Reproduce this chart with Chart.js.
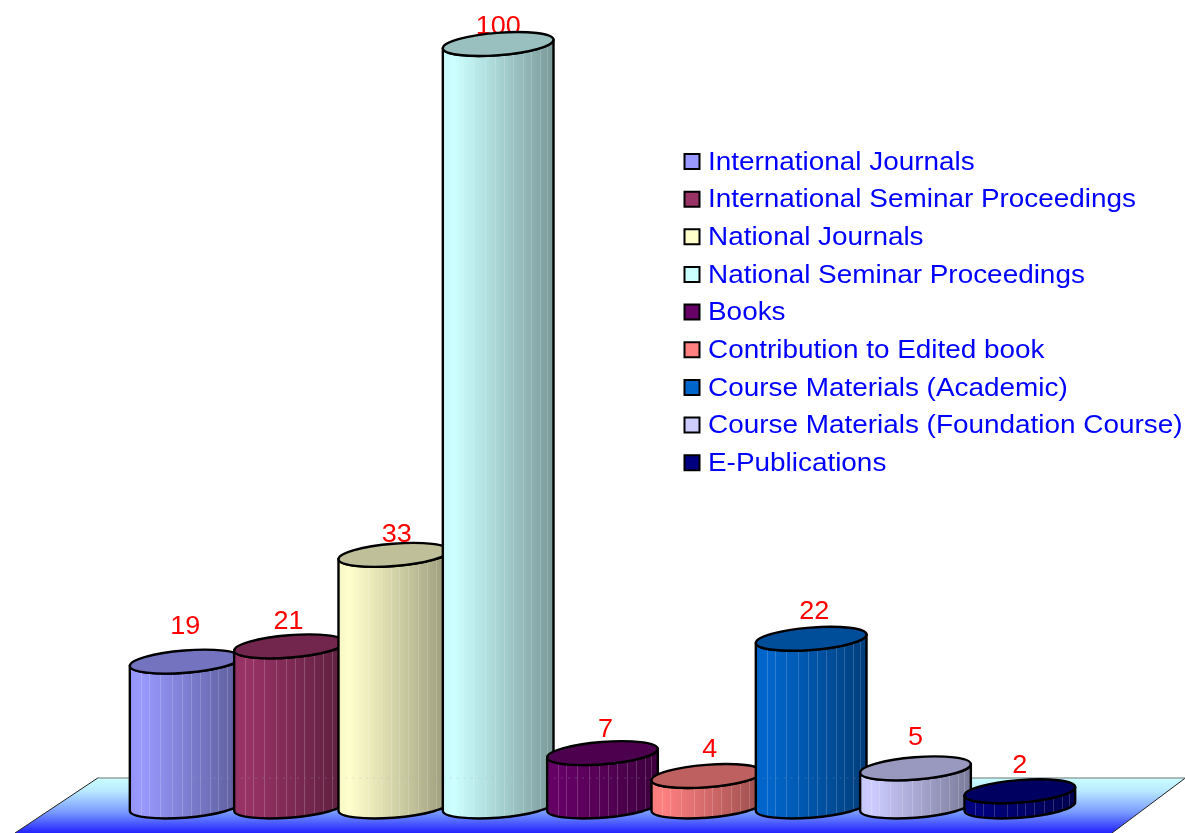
<!DOCTYPE html>
<html>
<head>
<meta charset="utf-8">
<style>html,body{margin:0;padding:0;background:#fff;overflow:hidden}canvas{display:block}</style>
<script src="https://cdn.jsdelivr.net/npm/chart.js@4"></script>
</head>
<body>
<canvas id="c" width="1185" height="833"></canvas>
<script>
const categories = ["International Journals","International Seminar Proceedings","National Journals","National Seminar Proceedings","Books","Contribution to Edited book","Course Materials (Academic)","Course Materials (Foundation Course)","E-Publications"];
const values = [19,21,33,100,7,4,22,5,2];
const barColors = ["#9999ff","#993366","#ffffcc","#ccffff","#660066","#ff8080","#0066cc","#ccccff","#000080"];
const labelLift = [35,25,20,17,24,26,27,31,26];
const labelShift = [0,-1,3,0,3,3,3,0,0];
const stripes = [.1,.17,.27,.38,.47,.55,.63,.72,.8,.88,.94];

function shade(hex,f){
  const n=parseInt(hex.slice(1),16);
  return 'rgb('+[(n>>16)&255,(n>>8)&255,n&255].map(v=>Math.round(v*f)).join(',')+')';
}
const TILT=4.5*Math.PI/180, RY=11.2;
const LEGEND_FONT=25, LEGEND_PITCH=37.65, LEGEND_TEXT_X=708, LEGEND_TEXT_Y=162.8, LEGEND_BOX_Y=161.5, LEGEND_STRETCH=1.116;

const floorPlugin={id:'floor',
  beforeDatasetsDraw(chart){
    const {ctx,width}=chart;
    const yb=chart.scales.y.getPixelForValue(0);
    const top=yb-29, bot=chart.height;
    ctx.save();
    const g=ctx.createLinearGradient(0,top,0,bot);
    g.addColorStop(0,'#ccffff');g.addColorStop(.25,'#b8e8ff');g.addColorStop(.62,'#7a9cff');g.addColorStop(1,'#2222ff');
    ctx.beginPath();ctx.moveTo(98.5,top);ctx.lineTo(width+1,top);ctx.lineTo(1112,bot);ctx.lineTo(15,bot);ctx.closePath();
    ctx.fillStyle=g;ctx.fill();
    ctx.lineWidth=1;ctx.strokeStyle='#222';
    ctx.beginPath();ctx.moveTo(15,bot);ctx.lineTo(98.5,top);ctx.stroke();
    ctx.beginPath();ctx.moveTo(1112,bot);ctx.lineTo(width+1,top);ctx.stroke();
    ctx.strokeStyle='#777';ctx.beginPath();ctx.moveTo(98.5,top+.5);ctx.lineTo(width,top+.5);ctx.stroke();
    // value labels sit behind the cylinders
    const meta=chart.getDatasetMeta(0);
    ctx.fillStyle='#ff0000';ctx.textAlign='center';ctx.textBaseline='middle';
    meta.data.forEach((el,i)=>{
      ctx.save();
      ctx.translate(el.x+labelShift[i],el.y-labelLift[i]+.6);ctx.scale(1.08,1);
      ctx.font='25px "Liberation Sans", Arial, sans-serif';
      ctx.fillText(String(values[i]),0,0);
      ctx.restore();
    });
    ctx.restore();
  },
  beforeDatasetDraw(){return false;},
  afterDatasetsDraw(chart){
    const ctx=chart.ctx, meta=chart.getDatasetMeta(0);
    const floorY=chart.scales.y.getPixelForValue(0)-29;
    meta.data.forEach((el,i)=>{
      const {x,y,base,width}=el.getProps(['x','y','base','width'],true);
      const col=barColors[i], a=width/2;
      const t0=Math.atan2(RY*Math.sin(TILT),a*Math.cos(TILT));
      const p=(cy,t)=>[x+a*Math.cos(t)*Math.cos(TILT)+RY*Math.sin(t)*Math.sin(TILT),cy-a*Math.cos(t)*Math.sin(TILT)+RY*Math.sin(t)*Math.cos(TILT)];
      const lt=p(y,t0+Math.PI);
      const body=()=>{ctx.beginPath();ctx.ellipse(x,base,a,RY,-TILT,t0,t0+Math.PI);ctx.lineTo(lt[0],lt[1]);ctx.ellipse(x,y,a,RY,-TILT,t0+Math.PI,t0,true);ctx.closePath();};
      ctx.save();
      const L=x-a,g=ctx.createLinearGradient(L,0,x+a,0);
      g.addColorStop(0,shade(col,.97));g.addColorStop(.1,shade(col,1));g.addColorStop(.5,shade(col,.83));g.addColorStop(1,shade(col,.6));
      body();ctx.fillStyle=g;ctx.fill();
      ctx.save();body();ctx.clip();
      ctx.lineWidth=1;ctx.strokeStyle='rgba(255,255,255,.18)';
      stripes.forEach(s=>{const sx=Math.round(L+s*width)+.5;ctx.beginPath();ctx.moveTo(sx,y-RY);ctx.lineTo(sx,base+RY);ctx.stroke();});
      ctx.strokeStyle='rgba(150,170,200,.28)';ctx.setLineDash([2,5]);
      ctx.beginPath();ctx.moveTo(L,floorY+.5);ctx.lineTo(x+a,floorY+.5);ctx.stroke();
      ctx.restore();
      ctx.lineWidth=2.4;ctx.strokeStyle='#000';ctx.lineJoin='round';
      body();ctx.stroke();
      ctx.beginPath();ctx.ellipse(x,y,a,RY,-TILT,0,Math.PI*2);
      ctx.fillStyle=shade(col,.75);ctx.fill();ctx.stroke();
      ctx.restore();
    });
  },
  afterLayout(chart){
    const l=chart.legend, opts=chart.options.plugins.legend.labels;
    l.left=LEGEND_TEXT_X-LEGEND_FONT/2-opts.boxWidth-opts.padding;
    l.right=chart.width+200;l.width=l.right-l.left;
    l.top=LEGEND_TEXT_Y-LEGEND_FONT/2-opts.padding;
    l.bottom=l.top+500;l.height=500;
    if(!l._stretched){
      l._stretched=true;
      const draw=l.draw;
      // the reference's legend text is horizontally stretched
      l.draw=function(area){
        const ctx=chart.ctx;ctx.save();
        ctx.translate(LEGEND_TEXT_X,0);ctx.scale(LEGEND_STRETCH,1);ctx.translate(-LEGEND_TEXT_X,0);
        draw.call(this,area);ctx.restore();
      };
    }
  },
  afterDraw(chart){
    const ctx=chart.ctx;
    ctx.save();
    barColors.forEach((c,i)=>{
      const cy=LEGEND_BOX_Y+i*LEGEND_PITCH;
      ctx.fillStyle=c;ctx.strokeStyle='#000';ctx.lineWidth=2;
      ctx.shadowColor='rgba(0,0,0,.35)';ctx.shadowBlur=1;
      ctx.beginPath();ctx.rect(684.5,cy-7.5,15,15);ctx.fill();ctx.shadowColor='transparent';ctx.stroke();
    });
    ctx.restore();
  }
};

new Chart(document.getElementById('c'),{
  type:'bar',
  data:{labels:categories,datasets:[{data:values,backgroundColor:barColors,barPercentage:1.064,categoryPercentage:1}]},
  options:{
    responsive:false,animation:false,
    layout:{padding:{left:133,right:113,top:44,bottom:26.5}},
    scales:{x:{display:false},y:{display:false,min:0,max:100}},
    plugins:{
      tooltip:{enabled:false},
      legend:{display:true,position:'chartArea',align:'start',
        labels:{boxWidth:14,boxHeight:14,padding:LEGEND_PITCH-LEGEND_FONT,color:'#0000ff',
          font:{family:'"Liberation Sans", Arial, sans-serif',size:LEGEND_FONT},
          generateLabels(){return categories.map((t,i)=>({text:t,fontColor:'#0000ff',fillStyle:'rgba(0,0,0,0)',strokeStyle:'rgba(0,0,0,0)',lineWidth:0,index:i}));}
        }
      }
    }
  },
  plugins:[floorPlugin]
});
</script>
</body>
</html>
